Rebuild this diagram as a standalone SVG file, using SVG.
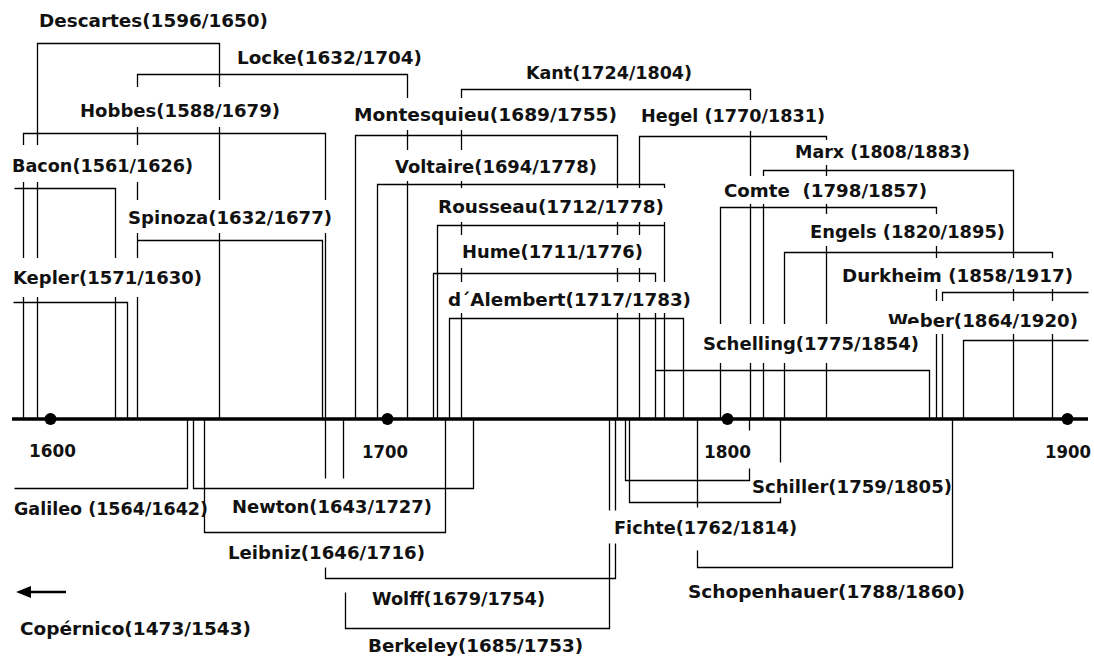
<svg xmlns="http://www.w3.org/2000/svg" width="1094" height="658" viewBox="0 0 1094 658">
<style>
.ln{stroke:#000;stroke-width:1.3;fill:none}
.ax{stroke:#000;stroke-width:3.5;fill:none}
.dot{fill:#000}
.bg{fill:#fff}
.t{font-family:"DejaVu Sans","Liberation Sans",sans-serif;font-weight:bold;font-size:18px;fill:#111}
</style>
<rect width="1094" height="658" fill="#fff"/>
<g id="connectors">
<g transform="translate(0.5,0.5)">
<path class="ln" d="M37 419V43H219V419"/>
<path class="ln" d="M137 419V74H407V419"/>
<path class="ln" d="M461 419V89H750V419"/>
<path class="ln" d="M23 419V133H325V419"/>
<path class="ln" d="M14 188H115V419"/>
<path class="ln" d="M137 240H322V419"/>
<path class="ln" d="M13 302H127V419"/>
<path class="ln" d="M355 419V135H617V419"/>
<path class="ln" d="M639 419V136H826V419"/>
<path class="ln" d="M763 419V170H1013V419"/>
<path class="ln" d="M377 419V184H664V419"/>
<path class="ln" d="M720 419V207H936V419"/>
<path class="ln" d="M437 419V225H664"/>
<path class="ln" d="M784 419V252H1052V419"/>
<path class="ln" d="M433 419V273H655V419"/>
<path class="ln" d="M942 419V292H1088"/>
<path class="ln" d="M449 419V318H683V419"/>
<path class="ln" d="M963 419V340H1088"/>
<path class="ln" d="M655 370H929V419"/>
<path class="ln" d="M187 419V488H14"/>
<path class="ln" d="M193 419V488H473V419"/>
<path class="ln" d="M204 419V532H445V419"/>
<path class="ln" d="M325 419V478M325 567V578H615V543M615 510V419"/>
<path class="ln" d="M343 419V478M345 592V628H609V543M609 510V419"/>
<path class="ln" d="M625 419V480H749V468M749 430V419"/>
<path class="ln" d="M629 419V502H780V497M780 462V419"/>
<path class="ln" d="M697 419V507M697 550V567H952V419"/>
</g>
<path class="ax" d="M30 592H66" style="stroke-width:2.5"/>
<polygon class="dot" points="16,592 31,586 31,598"/>
</g>
<g id="timeline">
<path class="ax" d="M12 419H1088"/>
<circle class="dot" cx="50.5" cy="419" r="6"/>
<circle class="dot" cx="387.5" cy="419" r="6"/>
<circle class="dot" cx="727.5" cy="419" r="6"/>
<circle class="dot" cx="1067.5" cy="419" r="6"/>
<text class="t" x="29" y="457" textLength="47" lengthAdjust="spacingAndGlyphs">1600</text>
<text class="t" x="362" y="458" textLength="46" lengthAdjust="spacingAndGlyphs">1700</text>
<text class="t" x="704" y="458" textLength="47" lengthAdjust="spacingAndGlyphs">1800</text>
<text class="t" x="1045" y="458" textLength="46" lengthAdjust="spacingAndGlyphs">1900</text>
</g>
<g id="descartes"><text class="t" x="39" y="26.5" textLength="229" lengthAdjust="spacingAndGlyphs">Descartes(1596/1650)</text></g>
<g id="locke"><text class="t" x="237" y="64" textLength="185" lengthAdjust="spacingAndGlyphs">Locke(1632/1704)</text></g>
<g id="kant"><text class="t" x="526" y="79" textLength="166" lengthAdjust="spacingAndGlyphs">Kant(1724/1804)</text></g>
<g id="hobbes"><rect class="bg" x="78" y="87" width="204" height="40"/><text class="t" x="80" y="117" textLength="200" lengthAdjust="spacingAndGlyphs">Hobbes(1588/1679)</text></g>
<g id="montesquieu"><rect class="bg" x="352" y="98" width="267" height="32"/><text class="t" x="354" y="121" textLength="263" lengthAdjust="spacingAndGlyphs">Montesquieu(1689/1755)</text></g>
<g id="hegel"><rect class="bg" x="639" y="100" width="188" height="31"/><text class="t" x="641" y="121.5" textLength="184" lengthAdjust="spacingAndGlyphs">Hegel (1770/1831)</text></g>
<g id="marx"><rect class="bg" x="793" y="140" width="179" height="25"/><text class="t" x="795" y="158" textLength="175" lengthAdjust="spacingAndGlyphs">Marx (1808/1883)</text></g>
<g id="bacon"><rect class="bg" x="10" y="145" width="185" height="37"/><text class="t" x="12" y="172" textLength="181" lengthAdjust="spacingAndGlyphs">Bacon(1561/1626)</text></g>
<g id="voltaire"><rect class="bg" x="393" y="150" width="206" height="31"/><text class="t" x="395" y="173" textLength="202" lengthAdjust="spacingAndGlyphs">Voltaire(1694/1778)</text></g>
<g id="comte"><rect class="bg" x="722" y="176" width="207" height="28"/><text class="t" x="724" y="197" textLength="203" lengthAdjust="spacingAndGlyphs" xml:space="preserve">Comte  (1798/1857)</text></g>
<g id="rousseau"><rect class="bg" x="436" y="188" width="230" height="34"/><text class="t" x="438" y="213" textLength="226" lengthAdjust="spacingAndGlyphs">Rousseau(1712/1778)</text></g>
<g id="spinoza"><rect class="bg" x="126" y="200" width="208" height="33"/><text class="t" x="128" y="224" textLength="204" lengthAdjust="spacingAndGlyphs">Spinoza(1632/1677)</text></g>
<g id="engels"><rect class="bg" x="808" y="214" width="199" height="32"/><text class="t" x="810" y="238" textLength="195" lengthAdjust="spacingAndGlyphs">Engels (1820/1895)</text></g>
<g id="hume"><rect class="bg" x="458" y="235" width="188" height="33"/><text class="t" x="462" y="258" textLength="181" lengthAdjust="spacingAndGlyphs">Hume(1711/1776)</text></g>
<g id="durkheim"><rect class="bg" x="840" y="258" width="235" height="31"/><text class="t" x="842" y="282" textLength="231" lengthAdjust="spacingAndGlyphs">Durkheim (1858/1917)</text></g>
<g id="kepler"><rect class="bg" x="11" y="258" width="193" height="39"/><text class="t" x="13" y="284" textLength="189" lengthAdjust="spacingAndGlyphs">Kepler(1571/1630)</text></g>
<g id="dalembert"><rect class="bg" x="446" y="282" width="247" height="31"/><text class="t" x="448" y="306" textLength="243" lengthAdjust="spacingAndGlyphs">d´Alembert(1717/1783)</text></g>
<g id="weber"><rect class="bg" x="886" y="301" width="194" height="33"/><text class="t" x="888" y="327" textLength="190" lengthAdjust="spacingAndGlyphs">Weber(1864/1920)</text></g>
<g id="schelling"><rect class="bg" x="701" y="324" width="220" height="39"/><text class="t" x="703" y="350" textLength="216" lengthAdjust="spacingAndGlyphs">Schelling(1775/1854)</text></g>
<g id="galileo"><text class="t" x="14" y="515" textLength="194" lengthAdjust="spacingAndGlyphs">Galileo (1564/1642)</text></g>
<g id="newton"><text class="t" x="232" y="513" textLength="200" lengthAdjust="spacingAndGlyphs">Newton(1643/1727)</text></g>
<g id="leibniz"><text class="t" x="228" y="559" textLength="197" lengthAdjust="spacingAndGlyphs">Leibniz(1646/1716)</text></g>
<g id="schiller"><text class="t" x="752" y="493" textLength="200" lengthAdjust="spacingAndGlyphs">Schiller(1759/1805)</text></g>
<g id="fichte"><text class="t" x="614" y="534" textLength="183" lengthAdjust="spacingAndGlyphs">Fichte(1762/1814)</text></g>
<g id="schopenhauer"><text class="t" x="688" y="598" textLength="277" lengthAdjust="spacingAndGlyphs">Schopenhauer(1788/1860)</text></g>
<g id="wolff"><text class="t" x="372" y="605" textLength="173" lengthAdjust="spacingAndGlyphs">Wolff(1679/1754)</text></g>
<g id="berkeley"><text class="t" x="368" y="652" textLength="215" lengthAdjust="spacingAndGlyphs">Berkeley(1685/1753)</text></g>
<g id="copernico"><text class="t" x="20" y="635" textLength="231" lengthAdjust="spacingAndGlyphs">Copérnico(1473/1543)</text></g>
</svg>
